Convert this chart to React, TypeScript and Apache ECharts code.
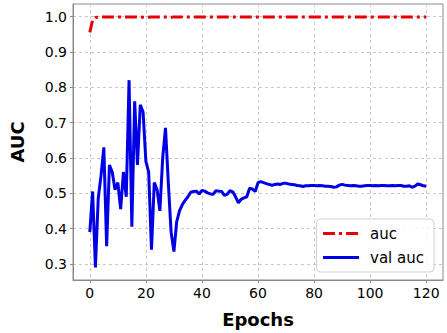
import React, { useEffect, useRef } from "react";
import * as echarts from "echarts";

const epochs: number[] = Array.from({ length: 121 }, (_, i) => i);

const aucValues: number[] = [
  0.955, 0.99, 0.997, 0.998, 0.999, 0.999, 0.999, 0.999, 0.999, 0.999,
  0.999, 0.999, 0.999, 0.999, 0.999, 0.999, 0.999, 0.999, 0.999, 0.998,
  0.997, 0.998, 0.999, 0.999, 0.999, 0.999, 0.999, 0.999, 0.999, 0.998,
  0.999, 0.999, 0.999, 0.999, 0.999, 0.999, 0.999, 0.999, 0.999, 0.999,
  0.999, 0.999, 0.999, 0.999, 0.999, 0.999, 0.999, 0.999, 0.999, 0.999,
  0.999, 0.999, 0.999, 0.999, 0.999, 0.999, 0.999, 0.999, 0.999, 0.999,
  0.999, 0.999, 0.999, 0.999, 0.999, 0.999, 0.999, 0.999, 0.999, 0.999,
  0.999, 0.999, 0.999, 0.999, 0.999, 0.999, 0.999, 0.999, 0.999, 0.999,
  0.999, 0.999, 0.999, 0.999, 0.999, 0.999, 0.999, 0.999, 0.999, 0.999,
  0.999, 0.999, 0.999, 0.999, 0.999, 0.999, 0.999, 0.999, 0.999, 0.999,
  0.999, 0.999, 0.999, 0.999, 0.999, 0.999, 0.999, 0.999, 0.999, 0.999,
  0.999, 0.999, 0.999, 0.999, 0.999, 0.999, 0.999, 0.999, 0.999, 0.999,
  0.999,
];

const valAucValues: number[] = [
  0.39, 0.505, 0.29, 0.485, 0.55, 0.63, 0.35, 0.58, 0.56, 0.51,
  0.53, 0.455, 0.56, 0.49, 0.82, 0.405, 0.76, 0.58, 0.75, 0.73,
  0.59, 0.56, 0.34, 0.53, 0.51, 0.45, 0.6, 0.685, 0.53, 0.39,
  0.335, 0.42, 0.45, 0.468, 0.48, 0.49, 0.503, 0.505, 0.506, 0.498,
  0.508, 0.506, 0.501, 0.498, 0.497, 0.507, 0.506, 0.505, 0.494, 0.497,
  0.507, 0.504, 0.49, 0.473, 0.483, 0.487, 0.49, 0.514, 0.512, 0.505,
  0.53, 0.533, 0.53, 0.527, 0.525, 0.522, 0.525, 0.526, 0.525, 0.528,
  0.528, 0.526, 0.525, 0.524, 0.522, 0.521, 0.519, 0.521, 0.521, 0.522,
  0.522, 0.521, 0.522, 0.521, 0.52, 0.52, 0.519, 0.517, 0.518, 0.523,
  0.525, 0.523, 0.522, 0.521, 0.522, 0.521, 0.52, 0.52, 0.521, 0.522,
  0.522, 0.521, 0.522, 0.521, 0.522, 0.522, 0.521, 0.521, 0.522, 0.521,
  0.522, 0.522, 0.52, 0.52, 0.521, 0.517, 0.52, 0.526, 0.524, 0.521,
  0.52,
];

const xTicks: number[] = [0, 20, 40, 60, 80, 100, 120];
const yTicks: number[] = [0.3, 0.4, 0.5, 0.6, 0.7, 0.8, 0.9, 1.0];

const seriesNames = ["auc", "val auc"];

const FONT = "DejaVu Sans";
const RED = "#e60000";
const BLUE = "#0000e6";
const DASHDOT = [12, 4, 3, 4];

export default function App() {
  const ref = useRef<HTMLDivElement>(null);

  useEffect(() => {
    if (!ref.current) return;
    const chart = echarts.init(ref.current, null, { renderer: "svg" });
    const splitLine = {
      show: true,
      lineStyle: { color: "#c8c8c8", width: 1, type: [3, 3] as number[] },
    };
    chart.setOption({
      animation: false,
      backgroundColor: "#ffffff",
      textStyle: { fontFamily: FONT },
      grid: {
        left: 73,
        right: 4,
        top: 4,
        bottom: 53,
        show: true,
        borderColor: "#8a8a8a",
        borderWidth: 1,
        backgroundColor: "transparent",
      },
      xAxis: {
        type: "value",
        min: -6,
        max: 126,
        name: "Epochs",
        nameLocation: "middle",
        nameGap: 30,
        nameTextStyle: {
          fontFamily: FONT,
          fontWeight: "bold",
          fontSize: 18,
          color: "#000",
          verticalAlign: "top",
        },
        axisLine: { show: true, onZero: false, lineStyle: { color: "#8a8a8a", width: 1 } },
        axisTick: {
          show: true,
          length: 3,
          customValues: xTicks,
          lineStyle: { color: "#8a8a8a" },
        },
        axisLabel: {
          customValues: xTicks,
          fontFamily: FONT,
          fontSize: 14,
          color: "#000",
          margin: 6,
        },
        splitLine,
      },
      yAxis: {
        type: "value",
        min: 0.2545,
        max: 1.0355,
        name: "AUC",
        nameLocation: "middle",
        nameGap: 47,
        nameTextStyle: {
          fontFamily: FONT,
          fontWeight: "bold",
          fontSize: 18,
          color: "#000",
        },
        axisLine: { show: true, onZero: false, lineStyle: { color: "#8a8a8a", width: 1 } },
        axisTick: {
          show: true,
          length: 3,
          customValues: yTicks,
          lineStyle: { color: "#8a8a8a" },
        },
        axisLabel: {
          customValues: yTicks,
          fontFamily: FONT,
          fontSize: 14,
          color: "#000",
          margin: 6,
          formatter: (v: number) => v.toFixed(1),
        },
        splitLine,
      },
      legend: {
        orient: "vertical",
        right: 13,
        bottom: 61,
        width: 118,
        padding: [7, 10, 7, 5],
        itemGap: 9,
        itemWidth: 36,
        itemHeight: 14,
        backgroundColor: "rgba(255,255,255,0.85)",
        borderColor: "#d0d0d0",
        borderWidth: 1,
        borderRadius: 4,
        itemStyle: { opacity: 0 },
        textStyle: { fontFamily: FONT, fontSize: 15, color: "#000", padding: [0, 0, 0, 6] },
        data: [
          {
            name: seriesNames[0],
            itemStyle: { opacity: 0 },
            lineStyle: { color: RED, width: 3, type: DASHDOT, opacity: 1 },
          },
          {
            name: seriesNames[1],
            itemStyle: { opacity: 0 },
            lineStyle: { color: BLUE, width: 3, type: "solid", opacity: 1 },
          },
        ],
      },
      series: [
        {
          name: seriesNames[0],
          type: "line",
          symbol: "none",
          data: epochs.map((e, i) => [e, aucValues[i]]),
          lineStyle: { color: RED, width: 3, type: DASHDOT },
          itemStyle: { color: RED },
          z: 3,
        },
        {
          name: seriesNames[1],
          type: "line",
          symbol: "none",
          data: epochs.map((e, i) => [e, valAucValues[i]]),
          lineStyle: { color: BLUE, width: 3 },
          itemStyle: { color: BLUE },
          z: 2,
        },
      ],
    });
    return () => chart.dispose();
  }, []);

  return (
    <div
      ref={ref}
      style={{ position: "fixed", left: 0, top: 0, width: 447, height: 333 }}
    />
  );
}
